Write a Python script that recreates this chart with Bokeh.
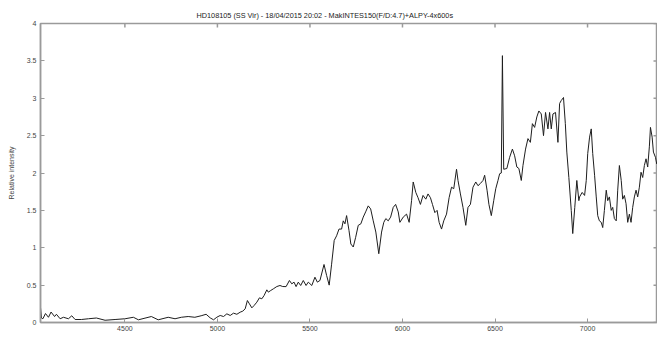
from bokeh.plotting import figure
from bokeh.models import FixedTicker, Label
from bokeh.embed import file_html
from bokeh.resources import INLINE

title_text = "HD108105 (SS Vir) - 18/04/2015 20:02 - MakINTES150(F/D:4.7)+ALPY-4x600s"
x_label = "Wavelength (A)"
y_label = "Relative intensity"

x_ticks = [4500, 5000, 5500, 6000, 6500, 7000]
y_ticks = [0, 0.5, 1, 1.5, 2, 2.5, 3, 3.5, 4]
y_tick_labels = ["0", "0.5", "1", "1.5", "2", "2.5", "3", "3.5", "4"]

wavelength = [
    4044, 4049, 4057, 4071, 4087, 4101, 4120, 4130, 4150, 4168, 4195, 4213, 4231, 4265,
    4303, 4346, 4393, 4447, 4501, 4546, 4573, 4643, 4680, 4734, 4771, 4805, 4842, 4878,
    4912, 4939, 4961, 4979, 4997, 5015, 5033, 5051, 5069, 5087, 5105, 5123, 5137, 5150,
    5162, 5173, 5186, 5198, 5213, 5227, 5240, 5252, 5267, 5275, 5288, 5302, 5321, 5338,
    5353, 5371, 5389, 5402, 5414, 5425, 5437, 5450, 5464, 5479, 5491, 5510, 5527, 5540,
    5554, 5576, 5590, 5604, 5617, 5631, 5644, 5657, 5671, 5680, 5689, 5698, 5711, 5721,
    5734, 5747, 5761, 5775, 5788, 5801, 5815, 5828, 5842, 5856, 5872, 5887, 5899, 5910,
    5923, 5936, 5950, 5963, 5977, 5986, 6004, 6022, 6036, 6049, 6058, 6072, 6084, 6097,
    6111, 6126, 6138, 6151, 6162, 6175, 6187, 6198, 6211, 6223, 6238, 6252, 6265, 6277,
    6292, 6300, 6313, 6327, 6342, 6354, 6367, 6381, 6396, 6408, 6421, 6435, 6444, 6457,
    6467, 6480, 6493, 6504, 6516, 6525, 6534, 6540, 6547, 6564, 6579, 6594, 6606, 6618,
    6629, 6642, 6651, 6665, 6678, 6691, 6702, 6714, 6726, 6737, 6750, 6762, 6773, 6786,
    6795, 6804, 6813, 6827, 6840, 6849, 6858, 6870, 6880, 6888, 6899, 6912, 6920, 6931,
    6942, 6953, 6957, 6971, 6984, 6993, 7001, 7011, 7020, 7028, 7038, 7047, 7055, 7064,
    7074, 7082, 7091, 7101, 7109, 7118, 7128, 7136, 7145, 7155, 7163, 7172, 7182, 7190,
    7199, 7208, 7217, 7226, 7235, 7244, 7253, 7262, 7271, 7280, 7289, 7298, 7307, 7316,
    7325, 7334, 7340, 7349, 7356, 7367, 7374,
]

intensity = [
    0.20, 0.06, 0.05, 0.12, 0.07, 0.14, 0.08, 0.11, 0.05, 0.07, 0.05, 0.09, 0.04, 0.04,
    0.05, 0.06, 0.03, 0.04, 0.05, 0.07, 0.036, 0.08, 0.036, 0.07, 0.05, 0.07, 0.08, 0.07,
    0.09, 0.11, 0.062, 0.036, 0.071, 0.094, 0.08, 0.116, 0.094, 0.125, 0.11, 0.138, 0.152, 0.183,
    0.294, 0.25, 0.196, 0.227, 0.272, 0.33, 0.317, 0.36, 0.437, 0.406, 0.428, 0.45, 0.481, 0.495,
    0.481, 0.48, 0.562, 0.517, 0.54, 0.48, 0.54, 0.495, 0.562, 0.495, 0.54, 0.495, 0.606, 0.54,
    0.562, 0.776, 0.63, 0.50, 0.78, 1.097, 1.16, 1.25, 1.25, 1.36, 1.32, 1.43, 1.23, 1.05,
    1.01, 1.14, 1.30, 1.32, 1.41, 1.48, 1.56, 1.52, 1.36, 1.21, 0.92, 1.21, 1.34, 1.39,
    1.36, 1.41, 1.54, 1.58, 1.48, 1.34, 1.41, 1.45, 1.34, 1.63, 1.88, 1.74, 1.67, 1.58,
    1.70, 1.65, 1.72, 1.67, 1.58, 1.47, 1.50, 1.34, 1.25, 1.36, 1.45, 1.67, 1.81, 1.79,
    2.05, 1.90, 1.72, 1.54, 1.30, 1.54, 1.58, 1.81, 1.88, 1.83, 1.86, 1.90, 1.97, 1.77,
    1.58, 1.43, 1.63, 1.79, 1.90, 1.99, 2.00, 3.57, 2.05, 2.06, 2.21, 2.32, 2.23, 2.08,
    2.06, 1.90, 2.10, 2.32, 2.46, 2.41, 2.66, 2.61, 2.75, 2.83, 2.79, 2.50, 2.81, 2.59,
    2.81, 2.59, 2.79, 2.81, 2.41, 2.93, 2.97, 3.01, 2.66, 2.28, 1.94, 1.50, 1.19, 1.54,
    1.90, 1.63, 1.68, 1.74, 1.70, 1.90, 2.26, 2.48, 2.59, 2.26, 1.97, 1.68, 1.43, 1.36,
    1.34, 1.27, 1.50, 1.77, 1.63, 1.68, 1.50, 1.54, 1.39, 1.36, 1.77, 2.10, 1.90, 1.65,
    1.70, 1.59, 1.34, 1.45, 1.34, 1.54, 1.68, 1.77, 1.68, 1.81, 2.01, 1.94, 2.10, 2.19,
    2.08, 2.35, 2.61, 2.48, 2.28, 2.21, 2.12,
]

x_start, x_end = 4044, 7378
y_start, y_end = 0, 4

FONT = "Liberation Sans"
AX = "#9a9a9a"
TXT = "#444444"

p = figure(width=657, height=335, x_range=(x_start, x_end), y_range=(y_start, y_end),
           output_backend="svg", toolbar_location=None,
           min_border_left=40, min_border_right=0, min_border_top=23, min_border_bottom=13)
p.grid.visible = False
p.outline_line_color = AX
p.outline_line_width = 1.5
p.background_fill_color = "white"
p.border_fill_color = "white"

p.title.text = title_text
p.title.text_font = FONT
p.title.text_font_size = "7.3px"
p.title.text_font_style = "normal"
p.title.text_color = "#222222"
p.title.align = "left"
p.title.standoff = 8
p.title.offset = 156

def style_axis(ax):
    ax.axis_line_color = AX
    ax.axis_line_width = 1.5
    ax.major_tick_line_color = AX
    ax.major_tick_in = 4
    ax.major_tick_out = 0
    ax.minor_tick_line_color = None
    ax.major_label_text_font = FONT
    ax.major_label_text_color = TXT
    ax.major_label_text_font_size = "7px"

xa = p.xaxis[0]
xa.ticker = FixedTicker(ticks=x_ticks)
style_axis(xa)
xa.major_label_standoff = 3

ya = p.yaxis[0]
ya.ticker = FixedTicker(ticks=y_ticks)
ya.major_label_overrides = {t: s for t, s in zip(y_ticks, y_tick_labels)}
style_axis(ya)
ya.major_label_standoff = 4
ya.axis_label = y_label
ya.axis_label_text_font = FONT
ya.axis_label_text_font_size = "7px"
ya.axis_label_text_font_style = "normal"
ya.axis_label_text_color = TXT
ya.axis_label_standoff = 9

# mirror ticks on the top and right edges of the frame (4 px long, inward)
dy = 4 * (y_end - y_start) / 299
dx = 4 * (x_end - x_start) / 617
p.segment(x0=x_ticks, x1=x_ticks, y0=[y_end] * len(x_ticks), y1=[y_end - dy] * len(x_ticks),
          line_color=AX, line_width=1.5)
p.segment(x0=[x_end] * len(y_ticks), x1=[x_end - dx] * len(y_ticks), y0=y_ticks, y1=y_ticks,
          line_color=AX, line_width=1.5)

p.line(wavelength, intensity, line_color="#1e1e1e", line_width=1)

p.add_layout(Label(x=(x_start + x_end) / 2, y=y_start, y_offset=-8, text=x_label,
                   text_font=FONT, text_font_size="7px", text_color=TXT,
                   text_align="center", text_baseline="middle"))

open("out.html", "w").write(file_html(p, INLINE))
